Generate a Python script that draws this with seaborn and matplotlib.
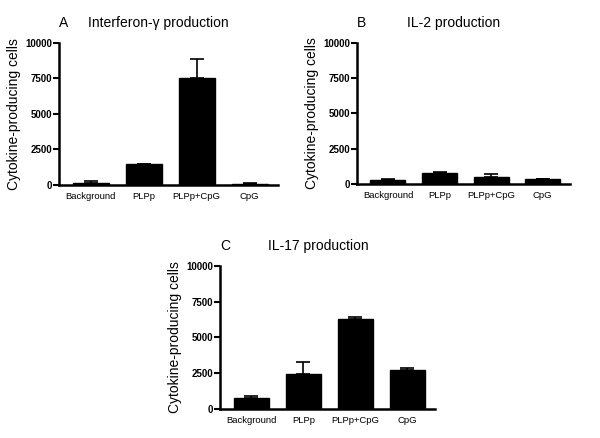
import matplotlib
matplotlib.use("Agg")
import matplotlib.pyplot as plt
import seaborn as sns
import pandas as pd

categories = ["Background", "PLPp", "PLPp+CpG", "CpG"]

ifng_mean = [100, 1500, 7500, 80]
ifng_err = [150, 0, 1400, 40]

il2_mean = [300, 750, 480, 320]
il2_err = [80, 100, 240, 60]

il17_mean = [750, 2450, 6300, 2700]
il17_err = [150, 850, 100, 200]

yticks = [0, 2500, 5000, 7500, 10000]

sns.set_theme(style="ticks", rc={"text.color": "black", "axes.labelcolor": "black",
                                 "xtick.color": "black", "ytick.color": "black",
                                 "axes.edgecolor": "black"})
plt.rcParams["font.family"] = ["Liberation Sans", "DejaVu Sans"]

fig = plt.figure(figsize=(6, 4.38), dpi=100)

panels = [
    ("A", "Interferon-\u03b3 production", ifng_mean, ifng_err, [0.098, 0.578, 0.365, 0.324]),
    ("B", "IL-2 production", il2_mean, il2_err, [0.595, 0.580, 0.355, 0.322]),
    ("C", "IL-17 production", il17_mean, il17_err, [0.367, 0.066, 0.358, 0.327]),
]

for letter, title, means, errs, rect in panels:
    ax = fig.add_axes(rect)
    df = pd.DataFrame({"cat": categories, "val": means})
    sns.barplot(data=df, x="cat", y="val", color="black", width=0.68,
                saturation=1, edgecolor="black", ax=ax)
    # upper-only error bars, graphpad style
    ax.errorbar(range(len(categories)), means, yerr=[[0] * len(errs), errs],
                fmt="none", ecolor="black", elinewidth=1.2, capsize=5, capthick=1.2)
    ax.set_xlim(-0.6, 3.53)
    ax.set_ylim(0, 10000)
    ax.set_yticks(yticks)
    ax.set_yticklabels([str(t) for t in yticks], fontsize=7, fontweight="bold")
    ax.set_xticks(range(len(categories)))
    ax.set_xticklabels(categories, fontsize=6.8)
    ax.tick_params(axis="x", length=0, pad=5)
    ax.tick_params(axis="y", length=4, width=1.5, pad=1)
    ax.set_xlabel("")
    ax.set_ylabel("Cytokine-producing cells", fontsize=10, labelpad=3)
    for s in ["left", "bottom"]:
        ax.spines[s].set_linewidth(1.8)
    sns.despine(ax=ax)
    ax.text(0.0, 1.09, letter, transform=ax.transAxes, fontsize=10, ha="left", va="bottom")
    ax.text(0.455, 1.09, title, transform=ax.transAxes, fontsize=10, ha="center", va="bottom")

fig.savefig("out.png", dpi=100)
